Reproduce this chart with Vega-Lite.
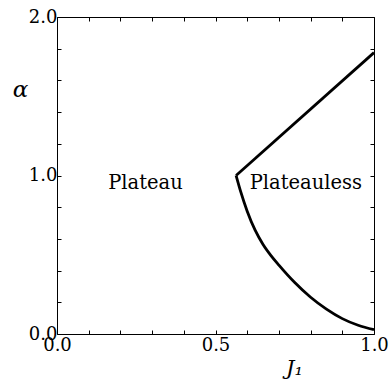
{
  "$schema": "https://vega.github.io/schema/vega-lite/v6.json",
  "width": 317,
  "height": 317,
  "autosize": "none",
  "padding": {"left": 57, "top": 17, "right": 16, "bottom": 45},
  "config": {
    "view": {"stroke": null},
    "axis": {
      "grid": false,
      "domainColor": "black",
      "domainWidth": 1,
      "tickColor": "black",
      "tickWidth": 1,
      "tickSize": -4,
      "labelFont": "DejaVu Serif",
      "labelFontSize": 18,
      "labelColor": "black",
      "labelFlush": false,
      "labelOverlap": false,
      "titleFont": "DejaVu Serif",
      "titleColor": "black",
      "titleFontWeight": "normal",
      "titleFontStyle": "italic"
    }
  },
  "datasets": {
    "curve": [
      {"seg": "upper", "J1": 0.565, "alpha": 1.0},
      {"seg": "upper", "J1": 1.0, "alpha": 1.775},
      {"seg": "lower", "J1": 0.565, "alpha": 1.0},
      {"seg": "lower", "J1": 0.58, "alpha": 0.895},
      {"seg": "lower", "J1": 0.6, "alpha": 0.775},
      {"seg": "lower", "J1": 0.625, "alpha": 0.655},
      {"seg": "lower", "J1": 0.65, "alpha": 0.565},
      {"seg": "lower", "J1": 0.675, "alpha": 0.495},
      {"seg": "lower", "J1": 0.7, "alpha": 0.435},
      {"seg": "lower", "J1": 0.75, "alpha": 0.325},
      {"seg": "lower", "J1": 0.8, "alpha": 0.232},
      {"seg": "lower", "J1": 0.85, "alpha": 0.157},
      {"seg": "lower", "J1": 0.9, "alpha": 0.097},
      {"seg": "lower", "J1": 0.95, "alpha": 0.055},
      {"seg": "lower", "J1": 1.0, "alpha": 0.027}
    ],
    "regions": [
      {"J1": 0.279, "alpha": 0.913, "label": "Plateau"},
      {"J1": 0.785, "alpha": 0.913, "label": "Plateauless"}
    ]
  },
  "layer": [
    {
      "data": {"name": "curve"},
      "mark": {"type": "line", "color": "black", "strokeWidth": 2.8, "interpolate": "monotone"},
      "encoding": {
        "x": {
          "field": "J1", "type": "quantitative",
          "scale": {"domain": [0, 1], "nice": false, "zero": false},
          "axis": {
            "orient": "bottom",
            "values": [0, 0.1, 0.2, 0.3, 0.4, 0.5, 0.6, 0.7, 0.8, 0.9, 1.0],
            "format": ".1f",
            "labelExpr": "datum.value == 0 || datum.value == 0.5 || datum.value == 1 ? datum.label : ''",
            "labelPadding": 6,
            "title": "J₁",
            "titleFontSize": 21,
            "titleX": 237,
            "titleY": 40,
            "titleAlign": "center",
            "titleBaseline": "alphabetic"
          }
        },
        "y": {
          "field": "alpha", "type": "quantitative",
          "scale": {"domain": [0, 2], "nice": false, "zero": false},
          "axis": {
            "orient": "left",
            "values": [0, 0.2, 0.4, 0.6, 0.8, 1.0, 1.2, 1.4, 1.6, 1.8, 2.0],
            "format": ".1f",
            "labelExpr": "datum.value == 0 || datum.value == 1 || datum.value == 2 ? datum.label : ''",
            "labelPadding": 4,
            "title": "α",
            "titleFontSize": 23,
            "titleAngle": 0,
            "titleX": -37,
            "titleY": 72,
            "titleAlign": "center",
            "titleBaseline": "middle"
          }
        },
        "detail": {"field": "seg"}
      }
    },
    {
      "data": {"name": "regions"},
      "mark": {"type": "text", "font": "DejaVu Serif", "fontSize": 19.5, "baseline": "alphabetic", "align": "center", "color": "black"},
      "encoding": {
        "x": {
          "field": "J1", "type": "quantitative",
          "axis": {
            "orient": "top",
            "values": [0, 0.1, 0.2, 0.3, 0.4, 0.5, 0.6, 0.7, 0.8, 0.9, 1.0],
            "labels": false,
            "title": null
          }
        },
        "y": {
          "field": "alpha", "type": "quantitative",
          "axis": {
            "orient": "right",
            "values": [0, 0.2, 0.4, 0.6, 0.8, 1.0, 1.2, 1.4, 1.6, 1.8, 2.0],
            "labels": false,
            "title": null
          }
        },
        "text": {"field": "label"}
      }
    }
  ],
  "resolve": {"axis": {"x": "independent", "y": "independent"}}
}
